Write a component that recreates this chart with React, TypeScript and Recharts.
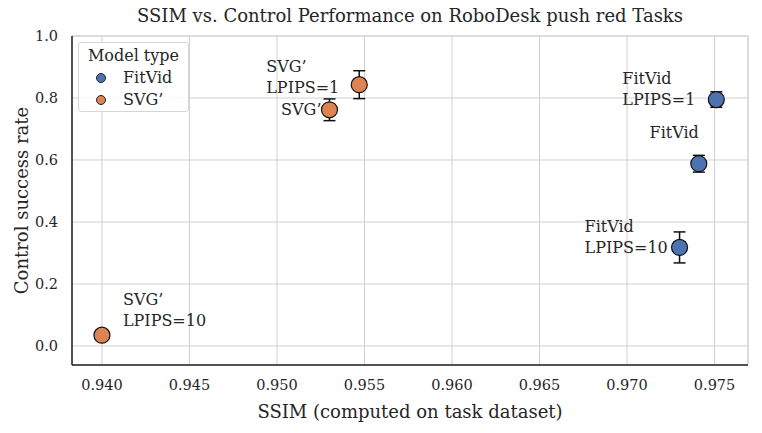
import React from 'react'
import {
  ScatterChart,
  Scatter,
  XAxis,
  YAxis,
  CartesianGrid,
  ErrorBar,
  ReferenceLine,
} from 'recharts'

// values
const fitvidSsim = [0.9751, 0.9741, 0.973]
const fitvidSuccess = [0.795, 0.588, 0.318]
const fitvidErr = [0.025, 0.027, 0.05]
const fitvidLabels = [['FitVid', 'LPIPS=1'], ['FitVid'], ['FitVid', 'LPIPS=10']]

const svgSsim = [0.94, 0.953, 0.9547]
const svgSuccess = [0.035, 0.762, 0.843]
const svgErr = [0, 0.035, 0.045]
const svgLabels = [['SVG’', 'LPIPS=10'], ['SVG’'], ['SVG’', 'LPIPS=1']]

const xTicks = [0.94, 0.945, 0.95, 0.955, 0.96, 0.965, 0.97, 0.975]
const yTicks = [0, 0.2, 0.4, 0.6, 0.8, 1.0]
const xDomain = [0.93829, 0.97691]
const yDomain = [-0.0613, 1.0]

const BLUE = '#4C72B0'
const ORANGE = '#DD8452'
const FONT = '"DejaVu Serif", serif'
const INK = '#262626'

// where each annotation sits relative to its marker (dx, dy of first baseline, anchor)
const fitvidPlace = [
  { dx: -94, dy: -16, anchor: 'start' },
  { dx: 0, dy: -26, anchor: 'end' },
  { dx: -95, dy: -15, anchor: 'start' },
]
const svgPlace = [
  { dx: 21, dy: -30, anchor: 'start' },
  { dx: -8, dy: 5, anchor: 'end' },
  { dx: -93, dy: -13, anchor: 'start' },
]

const fitvidData = fitvidSsim.map((x, i) => ({ x, y: fitvidSuccess[i], err: fitvidErr[i], lines: fitvidLabels[i], place: fitvidPlace[i] }))
const svgData = svgSsim.map((x, i) => ({ x, y: svgSuccess[i], err: svgErr[i], lines: svgLabels[i], place: svgPlace[i] }))

const makeShape = (color: string) => (props: any) => {
  const { cx, cy, payload } = props
  const p = payload.place
  return (
    <g>
      <circle cx={cx} cy={cy} r={8} fill={color} stroke="#111" strokeWidth={1.2} />
      {payload.lines.map((t: string, i: number) => (
        <text
          key={i}
          x={cx + p.dx}
          y={cy + p.dy + i * 21}
          textAnchor={p.anchor}
          fontFamily={FONT}
          fontSize={16}
          fill={INK}
        >
          {t}
        </text>
      ))}
    </g>
  )
}

const LegendBox = () => (
  <div
    style={{
      position: 'absolute',
      left: 78,
      top: 42,
      width: 109,
      height: 68,
      border: '1px solid #d6d6d6',
      borderRadius: 3,
      background: 'rgba(255,255,255,0.85)',
      fontFamily: FONT,
      color: INK,
      fontSize: 16,
    }}
  >
    <div style={{ textAlign: 'center', marginTop: 2, lineHeight: '21px' }}>Model type</div>
    {[
      { name: 'FitVid', color: BLUE },
      { name: 'SVG’', color: ORANGE },
    ].map((it) => (
      <div key={it.name} style={{ display: 'flex', alignItems: 'center', lineHeight: '21px', marginTop: 1 }}>
        <span
          style={{
            display: 'inline-block',
            width: 8,
            height: 8,
            borderRadius: '50%',
            background: it.color,
            border: '1px solid #222',
            marginLeft: 17,
            marginRight: 17,
          }}
        />
        {it.name}
      </div>
    ))}
  </div>
)

export default function App() {
  const tick = { fontFamily: FONT, fontSize: 14.5, fill: INK }
  return (
    <div style={{ width: 762, height: 433, position: 'relative', background: '#fff' }}>
      <style>{'body{margin:0}'}</style>
      <div
        style={{
          position: 'absolute',
          top: 5,
          left: 72,
          width: 676,
          textAlign: 'center',
          fontFamily: FONT,
          fontSize: 18,
          color: INK,
          zIndex: 2,
        }}
      >
        SSIM vs. Control Performance on RoboDesk push red Tasks
      </div>
      <ScatterChart width={762} height={433} margin={{ top: 36, right: 14, bottom: 38, left: 22 }}>
        <CartesianGrid stroke="#d0d0d0" strokeWidth={1} />
        <XAxis
          type="number"
          dataKey="x"
          domain={xDomain}
          ticks={xTicks}
          allowDataOverflow
          tickFormatter={(v) => v.toFixed(3)}
          tick={tick}
          tickLine={false}
          axisLine={{ stroke: '#222', strokeWidth: 1.5 }}
          height={30}
          tickMargin={9}
          label={{ value: 'SSIM (computed on task dataset)', position: 'insideBottom', offset: -23, style: { fontFamily: FONT, fontSize: 18, fill: INK } }}
        />
        <YAxis
          type="number"
          dataKey="y"
          domain={yDomain}
          ticks={yTicks}
          allowDataOverflow
          tickFormatter={(v) => v.toFixed(1)}
          tick={tick}
          tickLine={false}
          axisLine={{ stroke: '#222', strokeWidth: 1.5 }}
          width={50}
          tickMargin={8}
          label={{ value: 'Control success rate', angle: -90, position: 'insideLeft', offset: 0, style: { textAnchor: 'middle', fontFamily: FONT, fontSize: 18, fill: INK } }}
        />
        <ReferenceLine x={xDomain[1]} stroke="#d0d0d0" />
        <ReferenceLine y={yDomain[1]} stroke="#d0d0d0" />
        <Scatter name="FitVid" data={fitvidData} fill={BLUE} shape={makeShape(BLUE)} isAnimationActive={false}>
          <ErrorBar dataKey="err" direction="y" width={6} stroke="#111" strokeWidth={1.5} />
        </Scatter>
        <Scatter name="SVG’" data={svgData} fill={ORANGE} shape={makeShape(ORANGE)} isAnimationActive={false}>
          <ErrorBar dataKey="err" direction="y" width={6} stroke="#111" strokeWidth={1.5} />
        </Scatter>
      </ScatterChart>
      <LegendBox />
    </div>
  )
}
